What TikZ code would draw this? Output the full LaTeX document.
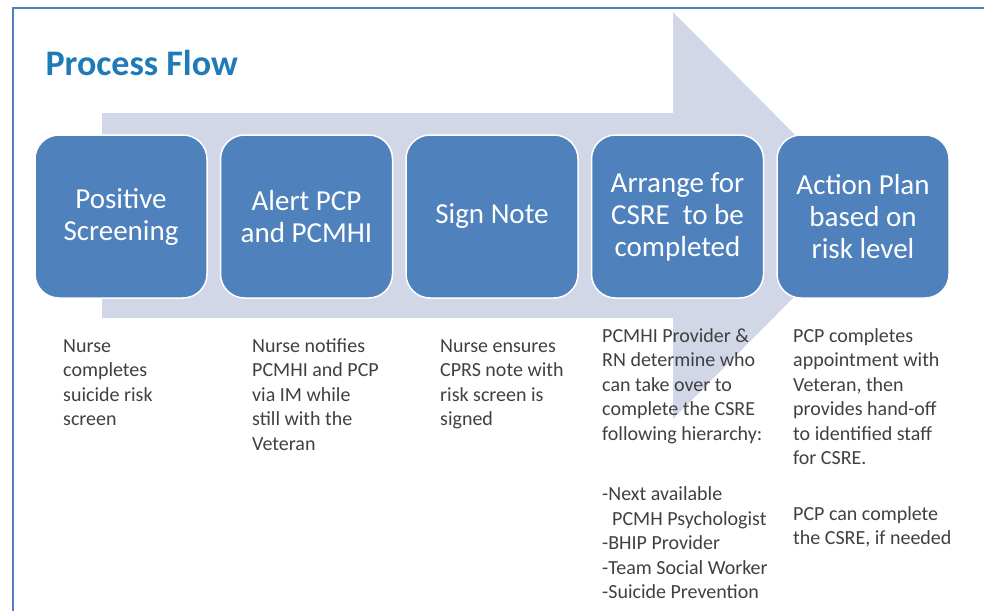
\documentclass[tikz,border=0pt]{standalone}
\usepackage{fontspec}
\setmainfont{Carlito}
\usetikzlibrary{positioning}
\definecolor{boxblue}{RGB}{79,129,189}
\definecolor{arrowgray}{RGB}{210,215,232}
\definecolor{titleblue}{RGB}{31,122,184}
\definecolor{notegray}{RGB}{64,64,64}
\begin{document}
\begin{tikzpicture}[x=1pt,y=-1pt,
    stepbox/.style={rectangle,rounded corners=24pt,fill=boxblue,draw=white,line width=1.5pt,
        minimum width=172pt,minimum height=163pt,inner sep=0pt,align=center,text=white,
        font=\fontsize{29}{32}\selectfont},
    note/.style={anchor=north west,inner sep=0pt,align=left,text=notegray,
        font=\fontsize{20}{24.5}\selectfont}]
                \useasboundingbox (0,0) rectangle (984,611);
                \draw[boxblue,line width=2pt] (13,611) -- (13,7.5) -- (984,7.5);
                \node[anchor=base west,text=titleblue,font=\bfseries\fontsize{36}{40}\selectfont] (title) at (42,75) {Process Flow};
                % big arrow behind the steps
                \fill[arrowgray] (102,113) -- (673,113) -- (673,12) -- (875,215.5)
                    -- (673,419) -- (673,318) -- (102,318) -- cycle;
                \node[stepbox] (screening) at (121,216.5) {Positive\\Screening};
                \node[stepbox,right=12pt of screening] (alert) {Alert PCP\\and PCMHI};
                \node[stepbox,right=12pt of alert] (sign) {Sign Note};
                \node[stepbox,right=12pt of sign] (arrange) {Arrange for\\CSRE~ to be\\completed};
                \node[stepbox,right=12pt of arrange] (action) {Action Plan\\based on\\risk level};
                % notes under each step
                \node[note] (screeningnote) at (63,335) {\strut Nurse\\completes\\suicide risk\\screen};
                \node[note] (alertnote) at (252,335) {\strut Nurse notifies\\PCMHI and PCP\\via IM while\\still with the\\Veteran};
                \node[note] (signnote) at (440,335) {\strut Nurse ensures\\CPRS note with\\risk screen is\\signed};
                \node[note] (arrangenote) at (602,325) {\strut PCMHI Provider \&\\RN determine who\\can take over to\\complete the CSRE\\following hierarchy:\\[36pt]
                    -Next available\\\hspace*{10pt}PCMH Psychologist\\-BHIP Provider\\-Team Social Worker\\-Suicide Prevention};
                \node[note] (actionnote) at (793,325) {\strut PCP completes\\appointment with\\Veteran, then\\provides hand-off\\to identified staff\\for CSRE.\\[31pt]
                    PCP can complete\\the CSRE, if needed};
\end{tikzpicture}
\end{document}
